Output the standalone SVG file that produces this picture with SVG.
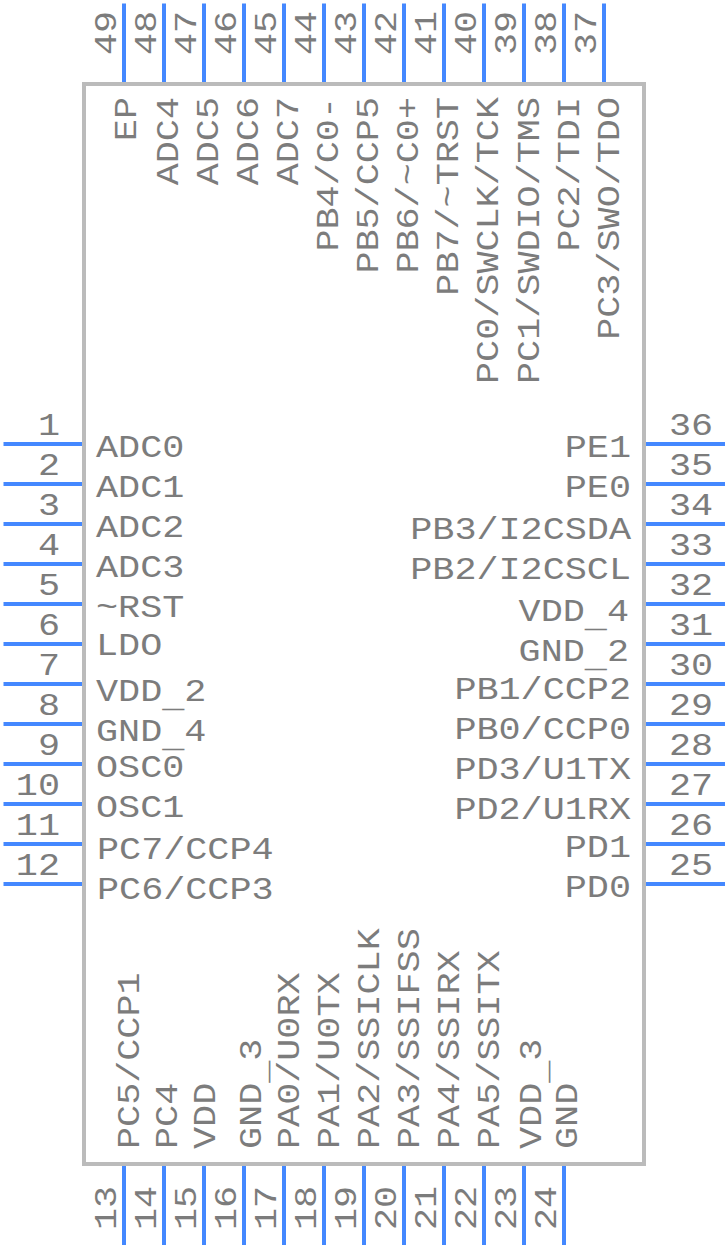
<svg xmlns="http://www.w3.org/2000/svg" width="728" height="1248" viewBox="0 0 728 1248">
<style>
text{font-family:"Liberation Mono",monospace;font-size:32px;fill:#7c7c7c}
.e{text-anchor:end}
.p{stroke:#4488ff;stroke-width:4;fill:none}
</style>
<rect width="728" height="1248" fill="#fff"/>
<g id="body"><rect x="84" y="84" width="560" height="1080" fill="none" stroke="#bbb" stroke-width="4"/></g>
<g id="connectors">
<path class="p" d="M3.500 444H82M3.500 484H82M3.500 524H82M3.500 564H82M3.500 604H82M3.500 644H82M3.500 684H82M3.500 724H82M3.500 764H82M3.500 804H82M3.500 844H82M3.500 884H82"/>
<path class="p" d="M646 444H725M646 484H725M646 524H725M646 564H725M646 604H725M646 644H725M646 684H725M646 724H725M646 764H725M646 804H725M646 844H725M646 884H725"/>
<path class="p" d="M124 3.500V82M164 3.500V82M204 3.500V82M244 3.500V82M284 3.500V82M324 3.500V82M364 3.500V82M404 3.500V82M444 3.500V82M484 3.500V82M524 3.500V82M564 3.500V82M604 3.500V82"/>
<path class="p" d="M124 1166V1245M164 1166V1245M204 1166V1245M244 1166V1245M284 1166V1245M324 1166V1245M364 1166V1245M404 1166V1245M444 1166V1245M484 1166V1245M524 1166V1245M564 1166V1245"/>
</g>
<g id="left-pins">
<g id="pin1"><text class="e" transform="translate(60 435) scale(1.15 1)">1</text><text transform="translate(96 457) scale(1.15 1)">ADC0</text></g>
<g id="pin2"><text class="e" transform="translate(60 475) scale(1.15 1)">2</text><text transform="translate(96 497) scale(1.15 1)">ADC1</text></g>
<g id="pin3"><text class="e" transform="translate(60 515) scale(1.15 1)">3</text><text transform="translate(96 537) scale(1.15 1)">ADC2</text></g>
<g id="pin4"><text class="e" transform="translate(60 555) scale(1.15 1)">4</text><text transform="translate(96 577) scale(1.15 1)">ADC3</text></g>
<g id="pin5"><text class="e" transform="translate(60 595) scale(1.15 1)">5</text><text transform="translate(96 617) scale(1.15 1)">~RST</text></g>
<g id="pin6"><text class="e" transform="translate(60 635) scale(1.15 1)">6</text><text transform="translate(96 655) scale(1.15 1)">LDO</text></g>
<g id="pin7"><text class="e" transform="translate(60 675) scale(1.15 1)">7</text><text transform="translate(96 701) scale(1.15 1)">VDD<tspan dy="6">_</tspan><tspan dy="-6">2</tspan></text></g>
<g id="pin8"><text class="e" transform="translate(60 715) scale(1.15 1)">8</text><text transform="translate(96 741) scale(1.15 1)">GND<tspan dy="6">_</tspan><tspan dy="-6">4</tspan></text></g>
<g id="pin9"><text class="e" transform="translate(60 755) scale(1.15 1)">9</text><text transform="translate(96 777) scale(1.15 1)">OSC0</text></g>
<g id="pin10"><text class="e" transform="translate(60 795) scale(1.15 1)">10</text><text transform="translate(96 817) scale(1.15 1)">OSC1</text></g>
<g id="pin11"><text class="e" transform="translate(60 835) scale(1.15 1)">11</text><text transform="translate(97 859) scale(1.15 1)">PC7/CCP4</text></g>
<g id="pin12"><text class="e" transform="translate(60 875) scale(1.15 1)">12</text><text transform="translate(97 899) scale(1.15 1)">PC6/CCP3</text></g>
</g>
<g id="right-pins">
<g id="pin36"><text transform="translate(669 435) scale(1.15 1)">36</text><text class="e" transform="translate(631 457) scale(1.15 1)">PE1</text></g>
<g id="pin35"><text transform="translate(669 475) scale(1.15 1)">35</text><text class="e" transform="translate(631 497) scale(1.15 1)">PE0</text></g>
<g id="pin34"><text transform="translate(669 515) scale(1.15 1)">34</text><text class="e" transform="translate(631 539) scale(1.15 1)">PB3/I2CSDA</text></g>
<g id="pin33"><text transform="translate(669 555) scale(1.15 1)">33</text><text class="e" transform="translate(631 579) scale(1.15 1)">PB2/I2CSCL</text></g>
<g id="pin32"><text transform="translate(669 595) scale(1.15 1)">32</text><text class="e" transform="translate(629 621) scale(1.15 1)">VDD<tspan dy="6">_</tspan><tspan dy="-6">4</tspan></text></g>
<g id="pin31"><text transform="translate(669 635) scale(1.15 1)">31</text><text class="e" transform="translate(629 661) scale(1.15 1)">GND<tspan dy="6">_</tspan><tspan dy="-6">2</tspan></text></g>
<g id="pin30"><text transform="translate(669 675) scale(1.15 1)">30</text><text class="e" transform="translate(631 699) scale(1.15 1)">PB1/CCP2</text></g>
<g id="pin29"><text transform="translate(669 715) scale(1.15 1)">29</text><text class="e" transform="translate(631 739) scale(1.15 1)">PB0/CCP0</text></g>
<g id="pin28"><text transform="translate(669 755) scale(1.15 1)">28</text><text class="e" transform="translate(631 779) scale(1.15 1)">PD3/U1TX</text></g>
<g id="pin27"><text transform="translate(669 795) scale(1.15 1)">27</text><text class="e" transform="translate(631 819) scale(1.15 1)">PD2/U1RX</text></g>
<g id="pin26"><text transform="translate(669 835) scale(1.15 1)">26</text><text class="e" transform="translate(631 857) scale(1.15 1)">PD1</text></g>
<g id="pin25"><text transform="translate(669 875) scale(1.15 1)">25</text><text class="e" transform="translate(631 897) scale(1.15 1)">PD0</text></g>
</g>
<g id="top-pins">
<g id="pin49"><text transform="translate(116 55) rotate(-90) scale(1.15 1)">49</text><text class="e" transform="translate(136 97) rotate(-90) scale(1.15 1)">EP</text></g>
<g id="pin48"><text transform="translate(156 55) rotate(-90) scale(1.15 1)">48</text><text class="e" transform="translate(178 97) rotate(-90) scale(1.15 1)">ADC4</text></g>
<g id="pin47"><text transform="translate(196 55) rotate(-90) scale(1.15 1)">47</text><text class="e" transform="translate(218 97) rotate(-90) scale(1.15 1)">ADC5</text></g>
<g id="pin46"><text transform="translate(236 55) rotate(-90) scale(1.15 1)">46</text><text class="e" transform="translate(258 97) rotate(-90) scale(1.15 1)">ADC6</text></g>
<g id="pin45"><text transform="translate(276 55) rotate(-90) scale(1.15 1)">45</text><text class="e" transform="translate(298 97) rotate(-90) scale(1.15 1)">ADC7</text></g>
<g id="pin44"><text transform="translate(316 55) rotate(-90) scale(1.15 1)">44</text><text class="e" transform="translate(338 97) rotate(-90) scale(1.15 1)">PB4/C0-</text></g>
<g id="pin43"><text transform="translate(356 55) rotate(-90) scale(1.15 1)">43</text><text class="e" transform="translate(378 97) rotate(-90) scale(1.15 1)">PB5/CCP5</text></g>
<g id="pin42"><text transform="translate(396 55) rotate(-90) scale(1.15 1)">42</text><text class="e" transform="translate(418 97) rotate(-90) scale(1.15 1)">PB6/~C0+</text></g>
<g id="pin41"><text transform="translate(436 55) rotate(-90) scale(1.15 1)">41</text><text class="e" transform="translate(458 97) rotate(-90) scale(1.15 1)">PB7/~TRST</text></g>
<g id="pin40"><text transform="translate(476 55) rotate(-90) scale(1.15 1)">40</text><text class="e" transform="translate(498 97) rotate(-90) scale(1.15 1)">PC0/SWCLK/TCK</text></g>
<g id="pin39"><text transform="translate(516 55) rotate(-90) scale(1.15 1)">39</text><text class="e" transform="translate(539 97) rotate(-90) scale(1.15 1)">PC1/SWDIO/TMS</text></g>
<g id="pin38"><text transform="translate(556 55) rotate(-90) scale(1.15 1)">38</text><text class="e" transform="translate(579 97) rotate(-90) scale(1.15 1)">PC2/TDI</text></g>
<g id="pin37"><text transform="translate(596 55) rotate(-90) scale(1.15 1)">37</text><text class="e" transform="translate(619 97) rotate(-90) scale(1.15 1)">PC3/SWO/TDO</text></g>
</g>
<g id="bottom-pins">
<g id="pin13"><text transform="translate(116 1230) rotate(-90) scale(1.15 1)">13</text><text transform="translate(139 1149) rotate(-90) scale(1.15 1)">PC5/CCP1</text></g>
<g id="pin14"><text transform="translate(156 1230) rotate(-90) scale(1.15 1)">14</text><text transform="translate(177 1149) rotate(-90) scale(1.15 1)">PC4</text></g>
<g id="pin15"><text transform="translate(196 1230) rotate(-90) scale(1.15 1)">15</text><text transform="translate(215 1149) rotate(-90) scale(1.15 1)">VDD</text></g>
<g id="pin16"><text transform="translate(236 1230) rotate(-90) scale(1.15 1)">16</text><text transform="translate(261 1149) rotate(-90) scale(1.15 1)">GND<tspan dy="6">_</tspan><tspan dy="-6">3</tspan></text></g>
<g id="pin17"><text transform="translate(276 1230) rotate(-90) scale(1.15 1)">17</text><text transform="translate(299 1149) rotate(-90) scale(1.15 1)">PA0/U0RX</text></g>
<g id="pin18"><text transform="translate(316 1230) rotate(-90) scale(1.15 1)">18</text><text transform="translate(339 1149) rotate(-90) scale(1.15 1)">PA1/U0TX</text></g>
<g id="pin19"><text transform="translate(356 1230) rotate(-90) scale(1.15 1)">19</text><text transform="translate(379 1149) rotate(-90) scale(1.15 1)">PA2/SSICLK</text></g>
<g id="pin20"><text transform="translate(396 1230) rotate(-90) scale(1.15 1)">20</text><text transform="translate(419 1149) rotate(-90) scale(1.15 1)">PA3/SSIFSS</text></g>
<g id="pin21"><text transform="translate(436 1230) rotate(-90) scale(1.15 1)">21</text><text transform="translate(459 1149) rotate(-90) scale(1.15 1)">PA4/SSIRX</text></g>
<g id="pin22"><text transform="translate(476 1230) rotate(-90) scale(1.15 1)">22</text><text transform="translate(499 1149) rotate(-90) scale(1.15 1)">PA5/SSITX</text></g>
<g id="pin23"><text transform="translate(516 1230) rotate(-90) scale(1.15 1)">23</text><text transform="translate(541 1149) rotate(-90) scale(1.15 1)">VDD<tspan dy="6">_</tspan><tspan dy="-6">3</tspan></text></g>
<g id="pin24"><text transform="translate(556 1230) rotate(-90) scale(1.15 1)">24</text><text transform="translate(577 1149) rotate(-90) scale(1.15 1)">GND</text></g>
</g>
</svg>
